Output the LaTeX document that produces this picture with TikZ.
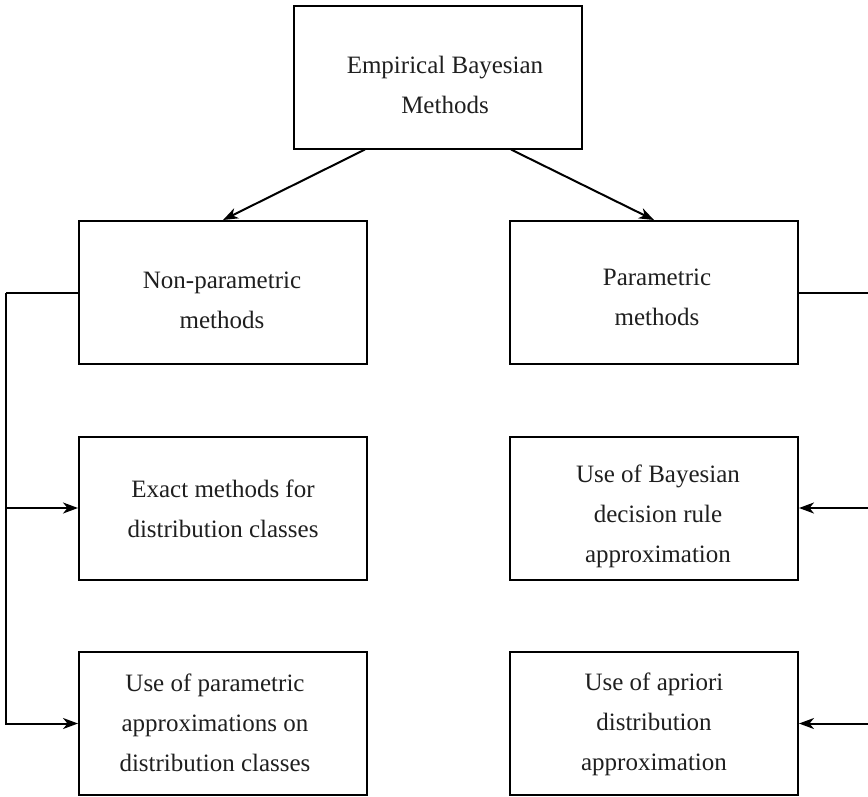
\documentclass[tikz,border=0pt]{standalone}
\usepackage{fontspec}
\setmainfont{Liberation Serif}
\usetikzlibrary{arrows.meta,calc}
% #1 horizontal shift, #2 height of first row (sets vertical placement), #3 lines
\newcommand{\boxtext}[3]{\hspace*{#1pt}\raisebox{0pt}[#2pt]{\begin{tabular}[t]{@{}c@{}}#3\end{tabular}}\hspace*{-#1pt}}
\begin{document}
\begin{tikzpicture}[x=1pt,y=-1pt,
  box/.style={draw,line width=2pt,minimum width=288pt,minimum height=143pt,inner sep=0pt,
    font=\fontsize{25pt}{40pt}\selectfont,text=black!88},
  conn/.style={line width=2pt},
  arr/.style={conn,-{Stealth[length=15pt,width=11pt,inset=4.5pt]}}]
\useasboundingbox (0,0) rectangle (868,796);
\node[box] (top) at (438,77) {\boxtext{7}{44}{Empirical Bayesian\\Methods}};
\node[box] (np) at (223,292.5) {\boxtext{-1}{43}{Non-parametric\\methods}};
\node[box] (em) at (223,508) {\boxtext{0}{30}{Exact methods for\\distribution classes}};
\node[box] (up) at (223,723.5) {\boxtext{-8}{27}{Use of parametric\\approximations on\\distribution classes}};
\node[box] (pm) at (654,292.5) {\boxtext{3}{37}{Parametric\\methods}};
\node[box] (br) at (654,508) {\boxtext{4}{40}{Use of Bayesian\\decision rule\\approximation}};
\node[box] (ap) at (654,723.5) {\boxtext{0}{25}{Use of apriori\\distribution\\approximation}};
\draw[arr] ($(top.south)+(-73,0)$) -- (np.north);
\draw[arr] ($(top.south)+(73,0)$) -- (pm.north);
\coordinate (L) at ($(np.west)+(-72,0)$);
\coordinate (R) at ($(pm.east)+(72,0)$);
\draw[conn] (np.west) -- (L);
\draw[arr] (L) |- (up.west);
\draw[arr] (L |- em.west) -- (em.west);
\draw[conn] (pm.east) -- (R);
\draw[arr] (R) |- (ap.east);
\draw[arr] (R |- br.east) -- (br.east);
\end{tikzpicture}
\end{document}
